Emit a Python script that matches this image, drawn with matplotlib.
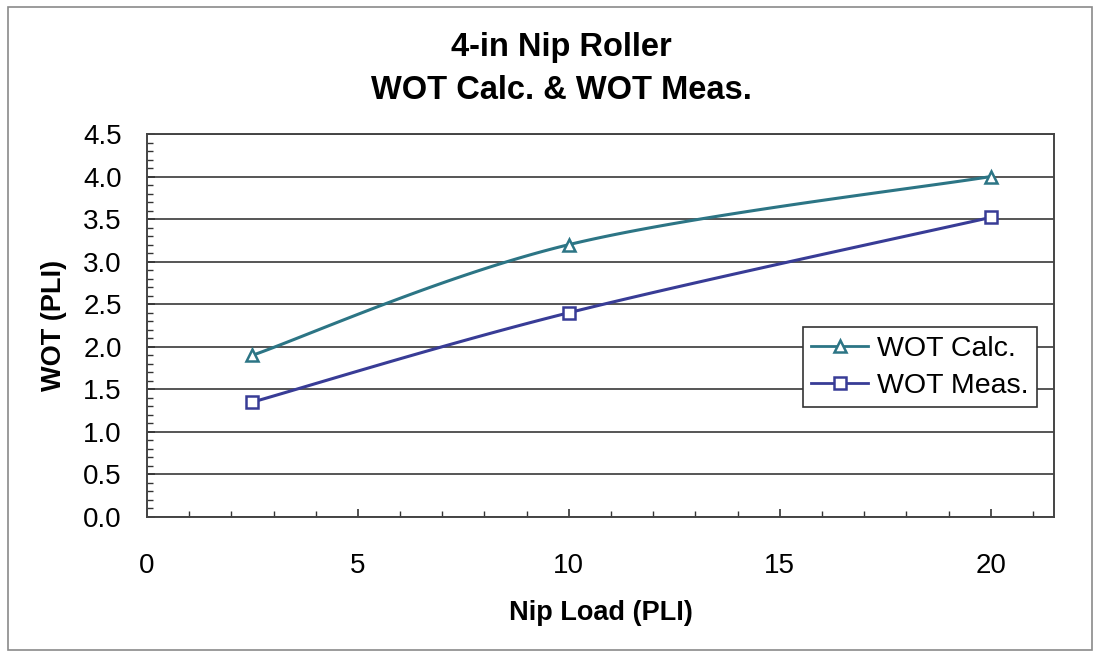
import numpy as np
import matplotlib
matplotlib.use("Agg")
import matplotlib.pyplot as plt
from matplotlib.ticker import MultipleLocator
from matplotlib.patches import Rectangle

plt.rcParams['font.family'] = ['Liberation Sans', 'DejaVu Sans']

nip_load = [2.5, 10, 20]
wot_calc = [1.9, 3.2, 4.0]
wot_meas = [1.35, 2.4, 3.52]
series_names = ["WOT Calc.", "WOT Meas."]
title_lines = ["4-in Nip Roller", "WOT Calc. & WOT Meas."]
x_label = "Nip Load (PLI)"
y_label = "WOT (PLI)"

calc_color = "#2c7585"
meas_color = "#383c96"


def smooth_curve(xs, ys, n=60):
    """Spreadsheet-style smoothed line: cubic Bezier segments with
    control points taken from neighbouring points (tension 1/6)."""
    pts = np.column_stack([xs, ys]).astype(float)
    out = []
    for i in range(len(pts) - 1):
        p0 = pts[i - 1] if i > 0 else pts[i]
        p1 = pts[i]
        p2 = pts[i + 1]
        p3 = pts[i + 2] if i + 2 < len(pts) else pts[i + 1]
        c1 = p1 + (p2 - p0) / 6.0
        c2 = p2 - (p3 - p1) / 6.0
        t = np.linspace(0, 1, n)[:, None]
        seg = ((1 - t) ** 3) * p1 + 3 * ((1 - t) ** 2) * t * c1 \
            + 3 * (1 - t) * t ** 2 * c2 + t ** 3 * p2
        out.append(seg if i == 0 else seg[1:])
    curve = np.vstack(out)
    return curve[:, 0], curve[:, 1]


fig = plt.figure(figsize=(11, 6.53), dpi=100)
ax = fig.add_axes([0.1336, 0.2083, 0.8246, 0.5865])

# outer chart frame
fig.patches.append(Rectangle((0.007, 0.005), 0.986, 0.984, transform=fig.transFigure,
                             fill=False, edgecolor="#8a8a8a", linewidth=1.2))

for ys, col, mk, name in [(wot_calc, calc_color, "^", series_names[0]),
                          (wot_meas, meas_color, "s", series_names[1])]:
    sx, sy = smooth_curve(nip_load, ys)
    ax.plot(sx, sy, color=col, linewidth=2.2, zorder=3)
    ax.plot(nip_load, ys, linestyle="none", marker=mk, markersize=9,
            markerfacecolor="white", markeredgecolor=col, markeredgewidth=1.8, zorder=4)
    # legend proxy
    ax.plot([], [], color=col, linewidth=2.0, marker=mk, markersize=9,
            markerfacecolor="white", markeredgecolor=col, markeredgewidth=1.8, label=name)

ax.set_xlim(0, 21.5)
ax.set_ylim(0, 4.5)
ax.xaxis.set_major_locator(MultipleLocator(5))
ax.xaxis.set_minor_locator(MultipleLocator(1))
ax.yaxis.set_minor_locator(MultipleLocator(0.1))
yticks = np.arange(0, 4.51, 0.5)
ax.set_yticks(yticks)
ax.set_yticklabels([f"{v:.1f}" for v in yticks])

ax.grid(axis="y", which="major", color="#555555", linewidth=1.4, zorder=1)
ax.set_axisbelow(True)
for s in ax.spines.values():
    s.set_color("#444444")
    s.set_linewidth(1.4)

ax.tick_params(axis="x", which="major", direction="in", length=6, width=1.2,
               labelsize=20, pad=26, colors="#333333", labelcolor="black")
ax.tick_params(axis="x", which="minor", direction="in", length=4, width=1.0, colors="#333333")
ax.tick_params(axis="y", which="major", direction="in", length=6, width=1.2,
               labelsize=20, pad=18, colors="#333333", labelcolor="black")
ax.tick_params(axis="y", which="minor", direction="in", length=4, width=1.0, colors="#333333")

ax.set_xlabel(x_label, fontsize=19.5, fontweight="bold", labelpad=15)
ax.set_ylabel(y_label, fontsize=19.5, fontweight="bold", labelpad=12)

fig.text(0.51, 0.928, title_lines[0], ha="center", va="center", fontsize=23.5, fontweight="bold")
fig.text(0.51, 0.862, title_lines[1], ha="center", va="center", fontsize=23.5, fontweight="bold")

leg = ax.legend(loc="upper left", bbox_to_anchor=(0.723, 0.496), fontsize=20.5,
                frameon=True, fancybox=False, handlelength=2.0, handletextpad=0.3,
                borderpad=0.3, labelspacing=0.4, borderaxespad=0.0)
leg.get_frame().set_edgecolor("#333333")
leg.get_frame().set_linewidth(1.2)
leg.get_frame().set_alpha(1.0)

fig.savefig("out.png", dpi=100)
